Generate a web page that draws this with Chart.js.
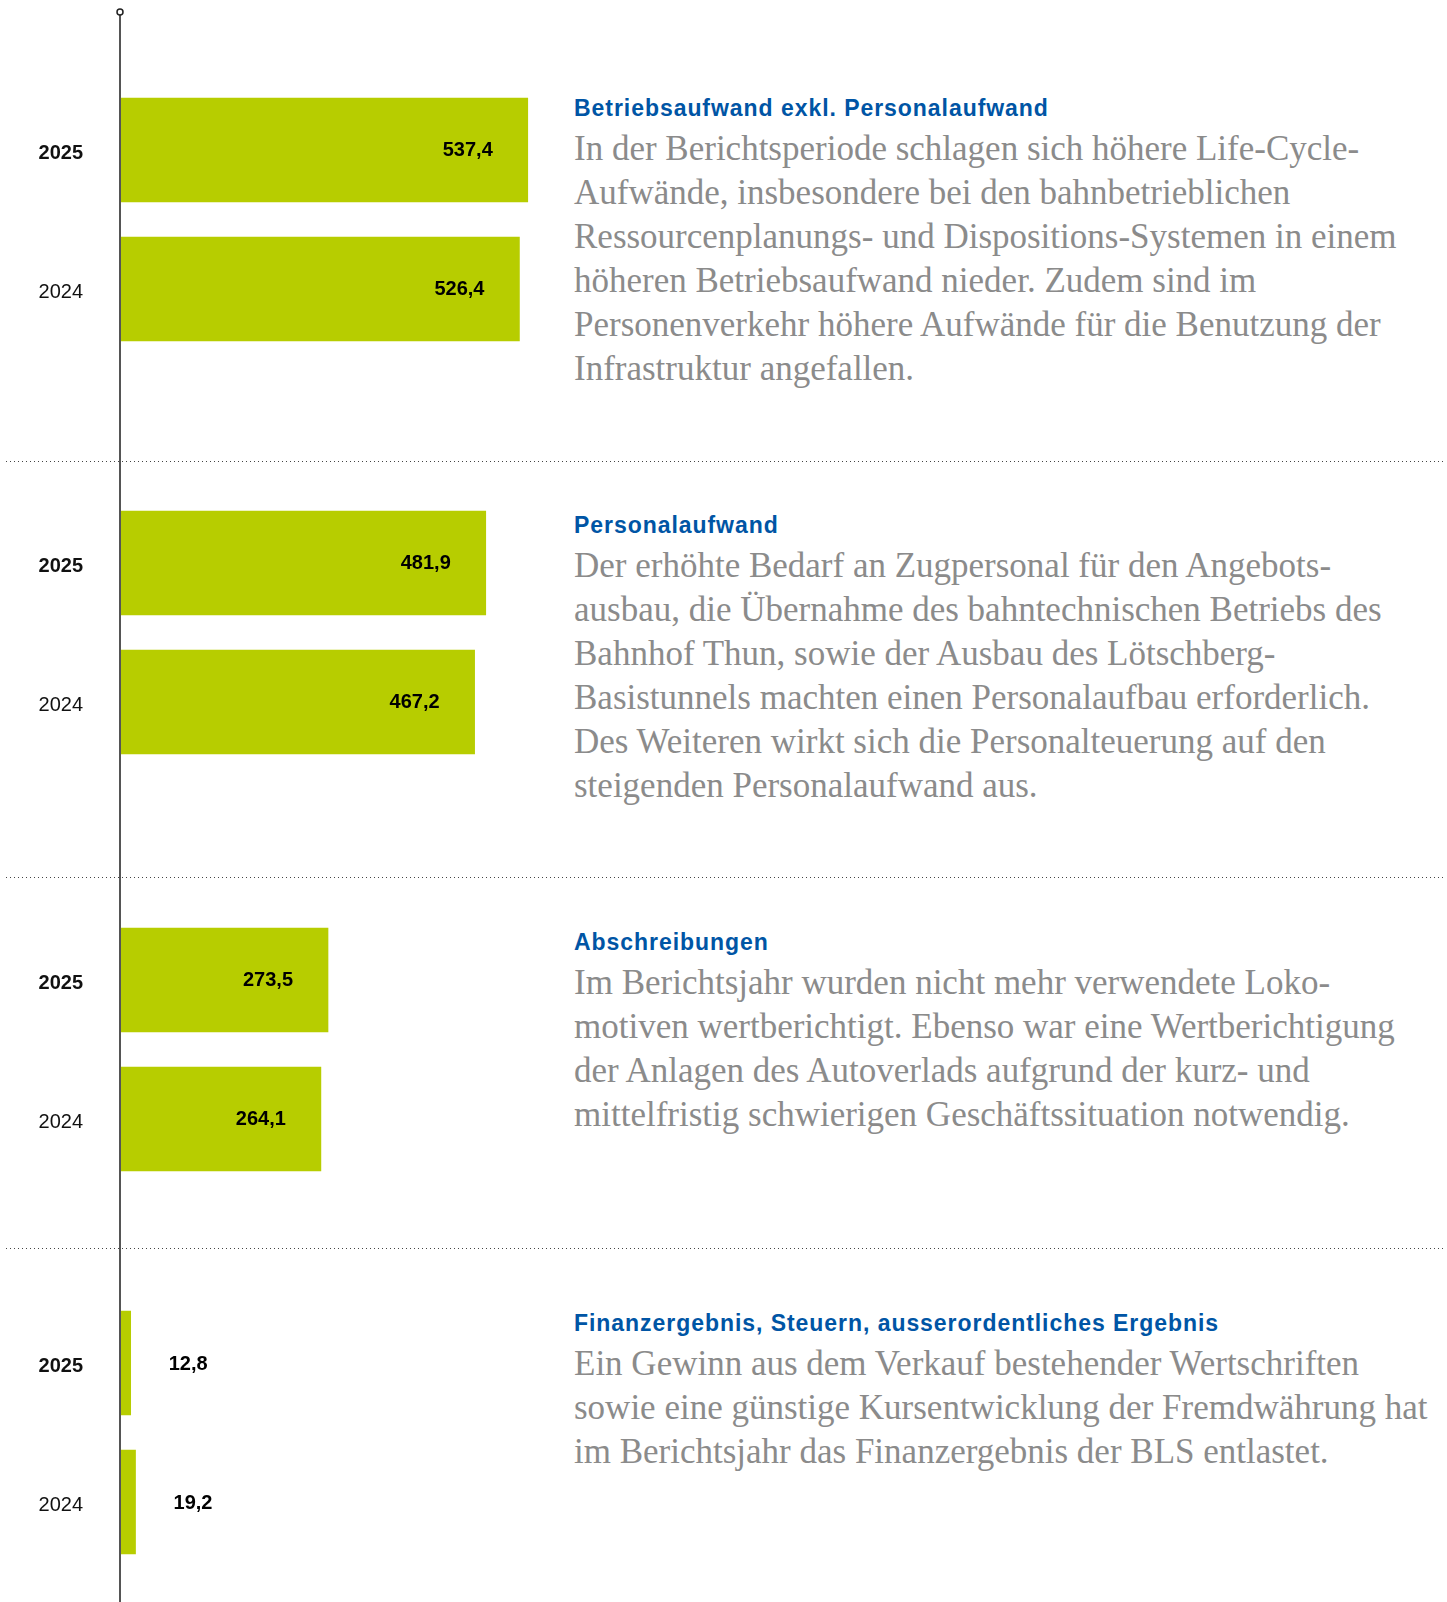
<!DOCTYPE html>
<html lang="de">
<head>
<meta charset="utf-8">
<script src="https://cdn.jsdelivr.net/npm/chart.js@4/dist/chart.umd.min.js"></script>
<style>
  html, body { margin: 0; padding: 0; background: #fff; }
  #page { position: relative; width: 1447px; height: 1602px; overflow: hidden; }
  .sect { position: absolute; left: 0; width: 1447px; }
  .sect canvas { position: absolute; left: 0; top: 0; }
  .sep {
    position: absolute; left: 6px; width: 1439px; height: 1px;
    background: repeating-linear-gradient(to right, #444 0 1.5px, transparent 1.5px 4px);
  }
  .txt { position: absolute; left: 574px; white-space: nowrap; }
  .txt h3 {
    margin: 0; font: bold 23px "Liberation Sans", Arial, sans-serif;
    letter-spacing: 0.95px; line-height: 28px; color: #0055a5;
  }
  .txt p {
    margin: 5px 0 0 0; font: 35px "Liberation Serif", serif;
    line-height: 44px; color: #8b8b8b;
  }
</style>
</head>
<body>
<div id="page"></div>
<script>
// values in Mio. CHF
const years = ['2025', '2024'];
const betriebsaufwand = [537.4, 526.4];
const personalaufwand = [481.9, 467.2];
const abschreibungen = [273.5, 264.1];
const finanzergebnis = [12.8, 19.2];

const titles = [
    'Betriebsaufwand exkl. Personalaufwand',
    'Personalaufwand',
    'Abschreibungen',
    'Finanzergebnis, Steuern, ausserordentliches Ergebnis'
];

const texts = [
    ['In der Berichtsperiode schlagen sich höhere Life-Cycle-',
     'Aufwände, insbesondere bei den bahnbetrieblichen',
     'Ressourcenplanungs- und Dispositions-Systemen in einem',
     'höheren Betriebsaufwand nieder. Zudem sind im',
     'Personenverkehr höhere Aufwände für die Benutzung der',
     'Infrastruktur angefallen.'],
    ['Der erhöhte Bedarf an Zugpersonal für den Angebots-',
     'ausbau, die Übernahme des bahntechnischen Betriebs des',
     'Bahnhof Thun, sowie der Ausbau des Lötschberg-',
     'Basistunnels machten einen Personalaufbau erforderlich.',
     'Des Weiteren wirkt sich die Personalteuerung auf den',
     'steigenden Personalaufwand aus.'],
    ['Im Berichtsjahr wurden nicht mehr verwendete Loko-',
     'motiven wertberichtigt. Ebenso war eine Wertberichtigung',
     'der Anlagen des Autoverlads aufgrund der kurz- und',
     'mittelfristig schwierigen Geschäftssituation notwendig.'],
    ['Ein Gewinn aus dem Verkauf bestehender Wertschriften',
     'sowie eine günstige Kursentwicklung der Fremdwährung hat',
     'im Berichtsjahr das Finanzergebnis der BLS entlastet.']
];

const seriesList = [betriebsaufwand, personalaufwand, abschreibungen, finanzergebnis];

// layout of the four blocks (page px)
const layout = [
    { top: 0,    height: 461, padTop: 80.5, padBottom: 102.5, textTop: 94 },
    { top: 461,  height: 416, padTop: 32.5, padBottom: 105.5, textTop: 50 },
    { top: 877,  height: 371, padTop: 33.5, padBottom: 59.5,  textTop: 51 },
    { top: 1248, height: 354, padTop: 45.5, padBottom: 30.5,  textTop: 61 }
];

const barColor = '#b7cd00';
const sansFont = '"Liberation Sans", Arial, sans-serif';

// vertical axis line through the whole block, plus the little circle on top
const axisLinePlugin = {
    id: 'axisLine',
    afterDraw(chart, args, opts) {
        const ctx = chart.ctx;
        const x = chart.scales.x.getPixelForValue(0) - 1;
        const y0 = opts.first ? 12 : 0;
        ctx.save();
        ctx.strokeStyle = '#555';
        ctx.lineWidth = 2;
        ctx.beginPath();
        ctx.moveTo(x, y0 + (opts.first ? 3 : 0));
        ctx.lineTo(x, chart.height);
        ctx.stroke();
        if (opts.first) {
            ctx.lineWidth = 1.5;
            ctx.strokeStyle = '#222';
            ctx.fillStyle = '#fff';
            ctx.beginPath();
            ctx.arc(x, y0, 3, 0, Math.PI * 2);
            ctx.fill();
            ctx.stroke();
        }
        ctx.restore();
    }
};

// value labels: inside the bar near its end, or right of it for short bars
const valueLabelPlugin = {
    id: 'valueLabels',
    afterDatasetsDraw(chart) {
        const ctx = chart.ctx;
        const meta = chart.getDatasetMeta(0);
        const data = chart.data.datasets[0].data;
        ctx.save();
        ctx.font = 'bold 20px ' + sansFont;
        ctx.fillStyle = '#000';
        ctx.textBaseline = 'middle';
        meta.data.forEach((bar, i) => {
            const label = data[i].toFixed(1).replace('.', ',');
            const w = bar.x - bar.base;
            if (w > 80) {
                ctx.textAlign = 'right';
                ctx.fillText(label, bar.x - 35, bar.y);
            } else {
                ctx.textAlign = 'left';
                ctx.fillText(label, bar.x + 38, bar.y + 1);
            }
        });
        ctx.restore();
    }
};

const page = document.getElementById('page');

layout.forEach((l, idx) => {
    const sect = document.createElement('div');
    sect.className = 'sect';
    sect.style.top = l.top + 'px';
    sect.style.height = l.height + 'px';

    const canvas = document.createElement('canvas');
    canvas.width = 560;
    canvas.height = l.height;
    canvas.style.width = '560px';
    canvas.style.height = l.height + 'px';
    sect.appendChild(canvas);

    const txt = document.createElement('div');
    txt.className = 'txt';
    txt.style.top = l.textTop + 'px';
    const h = document.createElement('h3');
    h.textContent = titles[idx];
    const p = document.createElement('p');
    p.innerHTML = texts[idx].join('<br>');
    txt.appendChild(h);
    txt.appendChild(p);
    sect.appendChild(txt);

    page.appendChild(sect);

    new Chart(canvas.getContext('2d'), {
        type: 'bar',
        data: {
            labels: years,
            datasets: [{
                data: seriesList[idx],
                backgroundColor: barColor,
                borderWidth: 0,
                barThickness: 104
            }]
        },
        options: {
            indexAxis: 'y',
            responsive: false,
            animation: false,
            events: [],
            layout: { padding: { top: l.padTop, bottom: l.padBottom, left: 0, right: 0 } },
            plugins: {
                legend: { display: false },
                tooltip: { enabled: false },
                axisLine: { first: idx === 0 }
            },
            scales: {
                x: {
                    display: false,
                    min: 0,
                    max: 580
                },
                y: {
                    afterFit(scale) { scale.width = 121; },
                    // invisible tick marks give the gap between label and axis
                    grid: { display: false, drawTicks: true, tickLength: 38 },
                    border: { display: false },
                    ticks: {
                        padding: 0,
                        labelOffset: 3,
                        color: '#111',
                        font: (c) => ({
                            family: sansFont,
                            size: 20,
                            weight: c.index === 0 ? 'bold' : 'normal'
                        })
                    }
                }
            }
        },
        plugins: [axisLinePlugin, valueLabelPlugin]
    });
});

// dotted separators between the blocks
layout.slice(1).forEach(l => {
    const sep = document.createElement('div');
    sep.className = 'sep';
    sep.style.top = l.top + 'px';
    page.appendChild(sep);
});
</script>
</body>
</html>
